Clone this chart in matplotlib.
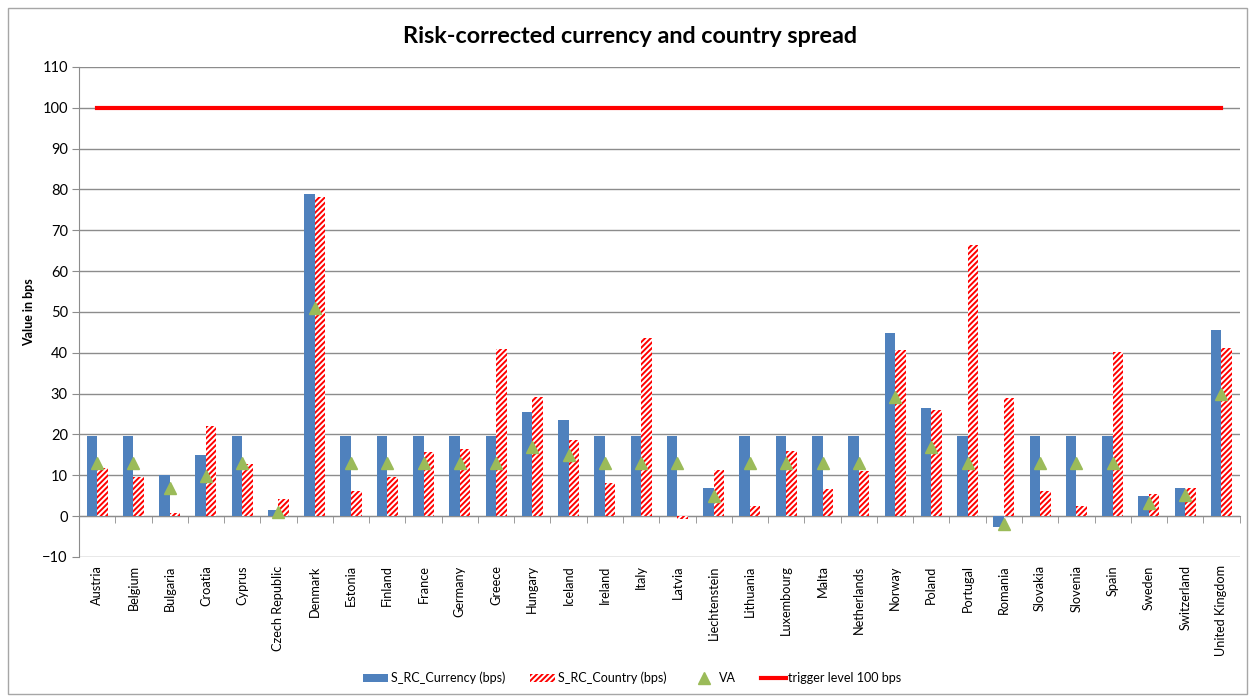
import numpy as np
import matplotlib
matplotlib.use("Agg")
import matplotlib.pyplot as plt
from matplotlib.lines import Line2D
from matplotlib.patches import Patch, Rectangle

plt.rcParams["font.family"] = ["Lato", "DejaVu Sans"]
plt.rcParams["hatch.linewidth"] = 1.4

# ------------------------------------------------------------
# data
# ------------------------------------------------------------
countries = [
    "Austria", "Belgium", "Bulgaria", "Croatia", "Cyprus", "Czech Republic",
    "Denmark", "Estonia", "Finland", "France", "Germany", "Greece", "Hungary",
    "Iceland", "Ireland", "Italy", "Latvia", "Liechtenstein", "Lithuania",
    "Luxembourg", "Malta", "Netherlands", "Norway", "Poland", "Portugal",
    "Romania", "Slovakia", "Slovenia", "Spain", "Sweden", "Switzerland",
    "United Kingdom",
]
s_rc_currency = [19.6, 19.6, 10.0, 14.9, 19.6, 1.5, 79.0, 19.6, 19.6, 19.6, 19.6,
                 19.6, 25.4, 23.5, 19.6, 19.6, 19.6, 6.9, 19.6, 19.6, 19.6, 19.6,
                 44.8, 26.5, 19.6, -2.6, 19.6, 19.6, 19.6, 4.9, 6.9, 45.5]
s_rc_country = [11.9, 9.5, 0.8, 22.0, 12.7, 4.2, 78.2, 6.1, 9.5, 15.8, 16.4,
                40.9, 29.1, 18.6, 8.0, 43.6, -0.8, 11.3, 2.6, 15.9, 6.6, 11.0,
                40.8, 26.0, 66.4, 28.9, 6.1, 2.6, 40.3, 5.3, 7.0, 41.1]
va = [13.0, 13.0, 6.9, 9.8, 13.0, 1.0, 50.9, 13.0, 13.0, 13.0, 13.0,
      13.0, 17.0, 15.0, 13.0, 13.0, 13.0, 4.9, 13.0, 13.0, 13.0, 13.0,
      29.1, 17.0, 13.0, -2.0, 13.0, 13.0, 13.0, 3.1, 5.1, 29.9]
trigger_level = 100
yticks = list(range(-10, 111, 10))

BLUE = "#4f81bd"
RED = "#ff0000"
GREEN = "#9bbb59"
GRID = "#8c8c8c"
HATCH = "//////"

fig = plt.figure(figsize=(12.52, 6.97), dpi=100)
ax = fig.add_axes([0.0631, 0.2009, 0.9270, 0.7030])

x = np.arange(len(countries))
w = 0.29

ax.bar(x - w / 2, s_rc_currency, width=w, color=BLUE, edgecolor="none",
       zorder=3, label="S_RC_Currency (bps)")
ax.bar(x + w / 2, s_rc_country, width=w, facecolor="white", edgecolor=RED,
       hatch=HATCH, linewidth=0, zorder=3, label="S_RC_Country (bps)")
ax.plot(x, va, linestyle="none", marker="^", markersize=9, color=GREEN,
        zorder=4, label="VA")
ax.plot(x, [trigger_level] * len(x), color=RED, linewidth=3, zorder=4,
        label="trigger level 100 bps")

# axes styling (Excel look)
ax.set_xlim(-0.5, len(countries) - 0.5)
ax.set_ylim(yticks[0], yticks[-1])
ax.set_yticks(yticks)
ax.tick_params(axis="y", length=5, color=GRID, labelsize=10.5, pad=3)
ax.yaxis.grid(True, color=GRID, linewidth=1)
ax.set_axisbelow(True)
for side in ["top", "right"]:
    ax.spines[side].set_visible(False)
ax.spines["left"].set_color(GRID)
ax.spines["bottom"].set_position(("data", 0))
ax.spines["bottom"].set_color(GRID)

# category boundary ticks on the zero line
ax.set_xticks(np.arange(len(countries) + 1) - 0.5, minor=True)
ax.set_xticks([])
ax.tick_params(axis="x", which="minor", length=5, color=GRID, labelbottom=False)

# labels at the bottom of the plot area
sec = ax.secondary_xaxis("bottom")
sec.set_xticks(x)
sec.set_xticklabels(countries, rotation=90, fontsize=9.2)
sec.tick_params(length=0, pad=6)
sec.spines["bottom"].set_visible(False)

ax.set_ylabel("Value in bps", fontsize=9, fontweight="bold", labelpad=5)
fig.text(0.503, 0.947, "Risk-corrected currency and country spread",
         ha="center", va="center", fontsize=16.8, fontweight="bold")

handles = [
    Patch(facecolor=BLUE, edgecolor="none"),
    Patch(facecolor="white", edgecolor=RED, hatch=HATCH, linewidth=0),
    Line2D([], [], linestyle="none", marker="^", markersize=8, color=GREEN),
    Line2D([], [], color=RED, linewidth=3),
]
labels = ["S_RC_Currency (bps)", "S_RC_Country (bps)", "VA", "trigger level 100 bps"]
fig.legend(handles, labels, loc="center", bbox_to_anchor=(0.505, 0.027),
           ncol=4, frameon=False, fontsize=9, handlelength=2.0, handleheight=0.6,
           handletextpad=0.2, columnspacing=2.0)

# chart area border
fig.patches.append(Rectangle((0.006, 0.004), 0.99, 0.985, transform=fig.transFigure,
                             fill=False, edgecolor="#a6a6a6", linewidth=1))

fig.savefig("out.png", dpi=100)
